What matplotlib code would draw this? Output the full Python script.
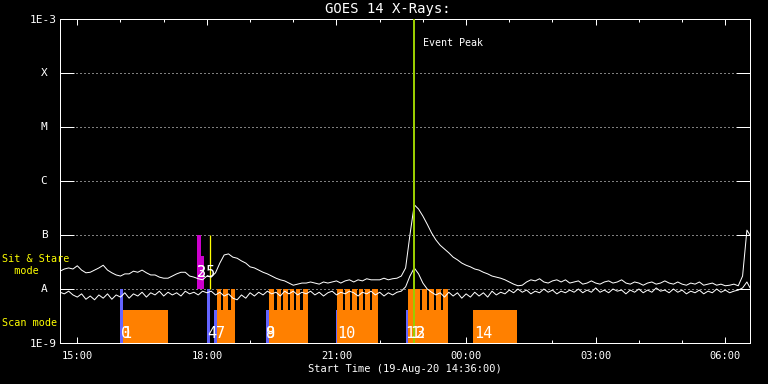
import numpy as np
import matplotlib
matplotlib.use("Agg")
import matplotlib.pyplot as plt
from matplotlib.transforms import blended_transform_factory

# ---------------- data ----------------
title = "GOES 14 X-Rays:"
xlabel = "Start Time (19-Aug-20 14:36:00)"
step_min = 6  # sampling of the light curves, minutes from start (14:36)

# log10 flux (W/m^2), long channel (upper curve)
long_log10 = [
    -7.67, -7.63, -7.61, -7.63, -7.57, -7.65, -7.70, -7.69, -7.65, -7.61,
    -7.56, -7.65, -7.70, -7.74, -7.76, -7.72, -7.72, -7.67, -7.69, -7.65,
    -7.70, -7.74, -7.74, -7.78, -7.80, -7.80, -7.76, -7.72, -7.69, -7.69,
    -7.76, -7.78, -7.81, -7.83, -7.76, -7.78, -7.70, -7.52, -7.37, -7.35,
    -7.41, -7.43, -7.48, -7.52, -7.59, -7.61, -7.65, -7.69, -7.72, -7.76,
    -7.80, -7.83, -7.85, -7.89, -7.93, -7.91, -7.89, -7.89, -7.87, -7.89,
    -7.91, -7.87, -7.89, -7.87, -7.85, -7.89, -7.85, -7.83, -7.87, -7.83,
    -7.85, -7.81, -7.83, -7.83, -7.83, -7.80, -7.83, -7.81, -7.80, -7.76,
    -7.61, -7.00, -6.44, -6.52, -6.65, -6.80, -6.96, -7.09, -7.19, -7.26,
    -7.33, -7.41, -7.46, -7.52, -7.56, -7.59, -7.63, -7.65, -7.69, -7.72,
    -7.76, -7.78, -7.80, -7.83, -7.87, -7.91, -7.94, -7.93, -7.87, -7.83,
    -7.85, -7.81, -7.87, -7.89, -7.85, -7.83, -7.87, -7.83, -7.89, -7.87,
    -7.85, -7.91, -7.89, -7.85, -7.89, -7.91, -7.87, -7.85, -7.89, -7.87,
    -7.83, -7.89, -7.91, -7.87, -7.89, -7.93, -7.89, -7.87, -7.91, -7.89,
    -7.85, -7.89, -7.91, -7.87, -7.91, -7.93, -7.89, -7.91, -7.87, -7.93,
    -7.91, -7.89, -7.93, -7.91, -7.94, -7.93, -7.91, -7.94, -7.76, -6.91,
    -7.04,
]

# log10 flux (W/m^2), short channel (lower curve)
short_log10 = [
    -8.06, -8.09, -8.04, -8.11, -8.15, -8.09, -8.19, -8.13, -8.20, -8.11,
    -8.17, -8.09, -8.19, -8.11, -8.15, -8.07, -8.17, -8.09, -8.13, -8.06,
    -8.15, -8.07, -8.11, -8.04, -8.13, -8.06, -8.11, -8.07, -8.13, -8.04,
    -8.09, -8.06, -8.11, -8.04, -8.07, -8.04, -8.11, -8.06, -8.13, -8.09,
    -8.17, -8.20, -8.11, -8.17, -8.07, -8.13, -8.06, -8.11, -8.04, -8.09,
    -8.06, -8.13, -8.04, -8.09, -8.04, -8.11, -8.06, -8.09, -8.04, -8.11,
    -8.06, -8.13, -8.07, -8.04, -8.11, -8.06, -8.09, -8.04, -8.07, -8.13,
    -8.06, -8.09, -8.04, -8.11, -8.06, -8.13, -8.07, -8.11, -8.06, -8.04,
    -7.96, -7.76, -7.61, -7.72, -7.89, -8.00, -8.06, -8.11, -8.07, -8.15,
    -8.06, -8.13, -8.07, -8.17, -8.09, -8.15, -8.06, -8.13, -8.07, -8.15,
    -8.04, -8.11, -8.06, -8.09, -8.02, -8.07, -8.00, -8.06, -8.02, -8.09,
    -8.04, -8.07, -8.00, -8.06, -8.02, -8.09, -8.04, -8.07, -8.02, -8.06,
    -8.00, -8.07, -8.02, -8.06, -7.98, -8.06, -8.02, -8.07, -8.00, -8.04,
    -8.02, -8.09, -8.02, -8.06, -8.00, -8.07, -8.02, -8.06, -7.98, -8.04,
    -8.02, -8.07, -8.00, -8.06, -8.02, -8.09, -8.04, -8.07, -8.02, -8.09,
    -8.04, -8.07, -8.00, -8.06, -8.02, -8.07, -8.04, -8.02, -7.98, -7.87,
    -8.02,
]

# scan-mode start markers (blue): start, end (min), top log10 flux
blue_start = [83.3, 204.6, 213.9, 286.1, 383.3, 480.6]
blue_end = [87.1, 208.3, 217.6, 290.3, 386.1, 483.3]
blue_top = [-8.0, -8.0, -8.39, -8.39, -8.39, -8.39]

# scan-mode observation blocks (orange): start, end (min)
block_start = [87.1, 217.6, 290.3, 385.1, 482.9, 573.6]
block_end = [150.0, 243.1, 344.4, 442.1, 538.5, 634.7]
block_top = -8.39
# individual rasters inside blocks (orange teeth)
raster_start = [217.6, 226.4, 237.5,
                290.3, 300.7, 309.7, 318.75, 327.8, 336.8,
                385.1, 396.25, 405.6, 414.9, 424.0, 433.3,
                483.3, 493.1, 502.4, 512.5, 522.2, 531.5]
raster_end = [223.2, 233.3, 243.1,
              297.9, 306.9, 316.0, 325.0, 334.0, 344.4,
              393.5, 402.8, 412.1, 421.25, 430.6, 442.1,
              489.6, 499.3, 509.3, 518.75, 528.75, 538.9]
raster_top = -8.0

# sit & stare observations (magenta): start, end (min), top log10 flux
ss_start = [190.7, 195.4]
ss_end = [195.4, 200.0]
ss_top = [-7.0, -7.39]
ss_marker_t = 208.3  # yellow marker

event_peak_t = 491.4

# observation number labels: text, minutes, log10 level
obs_labels = [("0", 84.7, -8.815), ("1", 86.1, -8.815),
              ("4", 205.0, -8.815), ("7", 216.0, -8.815),
              ("8", 285.5, -8.815), ("9", 285.5, -8.815),
              ("10", 384.5, -8.815),
              ("1", 479.0, -8.815), ("1", 486.0, -8.815),
              ("2", 494.5, -8.815), ("3", 494.5, -8.815),
              ("14", 575.0, -8.815),
              ("2", 190.0, -7.69), ("3", 190.0, -7.69), ("5", 203.0, -7.69)]

xtick_pos = [24, 204, 384, 564, 744, 924]
xtick_lab = ["15:00", "18:00", "21:00", "00:00", "03:00", "06:00"]
xminor_pos = [84, 144, 264, 324, 444, 504, 624, 684, 804, 864]
class_levels = [1e-8, 1e-7, 1e-6, 1e-5, 1e-4]
class_names = ["A", "B", "C", "M", "X"]

# ---------------- styling ----------------
ORANGE = "#ff8000"
BLUE = "#6464ff"
MAGENTA = "#cc00cc"
GREEN = "#99cc00"
MONO = "DejaVu Sans Mono"
PX = 72 / 100.0  # points per pixel

fig = plt.figure(figsize=(7.68, 3.84), dpi=100, facecolor="black")
ax = fig.add_axes([60 / 768, 41 / 384, 690 / 768, 324 / 384])
ax.set_facecolor("black")
ax.set_yscale("log")
ax.set_ylim(1e-9, 1e-3)
ax.set_xlim(0, 958.3)

t = np.arange(len(long_log10)) * step_min

# bars
bs = np.array(blue_start); be = np.array(blue_end)
ax.bar(bs, 10 ** np.array(blue_top) - 1e-9, width=be - bs, bottom=1e-9,
       align="edge", color=BLUE, linewidth=0, zorder=2)
ks = np.array(block_start); ke = np.array(block_end)
ax.bar(ks, 10 ** block_top - 1e-9, width=ke - ks, bottom=1e-9,
       align="edge", color=ORANGE, linewidth=0, zorder=2)
rs = np.array(raster_start); re_ = np.array(raster_end)
ax.bar(rs, 10 ** raster_top - 1e-9, width=re_ - rs, bottom=1e-9,
       align="edge", color=ORANGE, linewidth=0, zorder=2)
ss = np.array(ss_start); se = np.array(ss_end)
ax.bar(ss, 10 ** np.array(ss_top) - 1e-8, width=se - ss, bottom=1e-8,
       align="edge", color=MAGENTA, linewidth=0, zorder=2)
ax.vlines(ss_marker_t, 1e-8, 1e-7, color="yellow", lw=1.3 * PX, zorder=2)

# class grid lines (dotted)
for lv in class_levels:
    ax.axhline(lv, xmin=16 / 690, xmax=1 - 16 / 690, color="white",
               lw=1.0 * PX, linestyle=(0, (1, 3)), zorder=1.5)

# curves
ax.plot(t, 10 ** np.array(long_log10), color="white", lw=1.0 * PX, zorder=3)
ax.plot(t, 10 ** np.array(short_log10), color="white", lw=1.0 * PX, zorder=3)

# event peak
ax.axvline(event_peak_t, color=GREEN, lw=2.0 * PX, zorder=4)
ax.text(event_peak_t + 12.5, 10 ** -3.44, "Event Peak", color="white",
        fontsize=7.2, family=MONO, va="center", ha="left", zorder=5)

# observation numbers
for txt, tx, lv in obs_labels:
    ax.text(tx, 10 ** lv, txt, color="white", fontsize=11, family=MONO,
            va="center", ha="left", zorder=5)

# spines and ticks
for sp in ax.spines.values():
    sp.set_color("white")
    sp.set_linewidth(1.0 * PX)
ax.set_yticks([1e-9, 1e-8, 1e-7, 1e-6, 1e-5, 1e-4, 1e-3])
ax.set_yticklabels(["1E-9", "", "", "", "", "", "1E-3"])
ax.yaxis.set_minor_locator(matplotlib.ticker.NullLocator())
ax.tick_params(axis="y", which="major", direction="in", length=14 * PX,
               width=1.0 * PX, color="white", left=True, right=True,
               labelcolor="white", labelsize=8, pad=3 * PX)
ax.set_xticks(xtick_pos)
ax.set_xticklabels(xtick_lab)
ax.set_xticks(xminor_pos, minor=True)
ax.tick_params(axis="x", which="major", direction="in", length=6 * PX,
               width=1.0 * PX, color="white", top=True, bottom=True,
               labelcolor="white", labelsize=7.5, pad=8 * PX)
ax.tick_params(axis="x", which="minor", direction="in", length=3 * PX,
               width=1.0 * PX, color="white", top=True, bottom=True)
for lab in ax.get_xticklabels() + ax.get_yticklabels():
    lab.set_family(MONO)

trans = blended_transform_factory(ax.transAxes, ax.transData)
for lv, nm in zip(class_levels, class_names):
    ax.text((44 - 60) / 690, lv, nm, transform=trans, color="white",
            fontsize=8, family=MONO, ha="center", va="center")

ax.set_xlabel(xlabel, color="white", fontsize=7.5, family=MONO, labelpad=2)

fig.text(387.5 / 768, 1 - 9.5 / 384, title, color="white", fontsize=10,
         family=MONO, ha="center", va="center")
fig.text(2 / 768, 1 - 259 / 384, "Sit & Stare", color="yellow",
         fontsize=7.3, family=MONO, ha="left", va="center")
fig.text(2 / 768, 1 - 271 / 384, "  mode", color="yellow",
         fontsize=7.3, family=MONO, ha="left", va="center")
fig.text(2 / 768, 1 - 323 / 384, "Scan mode", color="yellow",
         fontsize=7.3, family=MONO, ha="left", va="center")

fig.savefig("out.png", dpi=100, facecolor="black")
